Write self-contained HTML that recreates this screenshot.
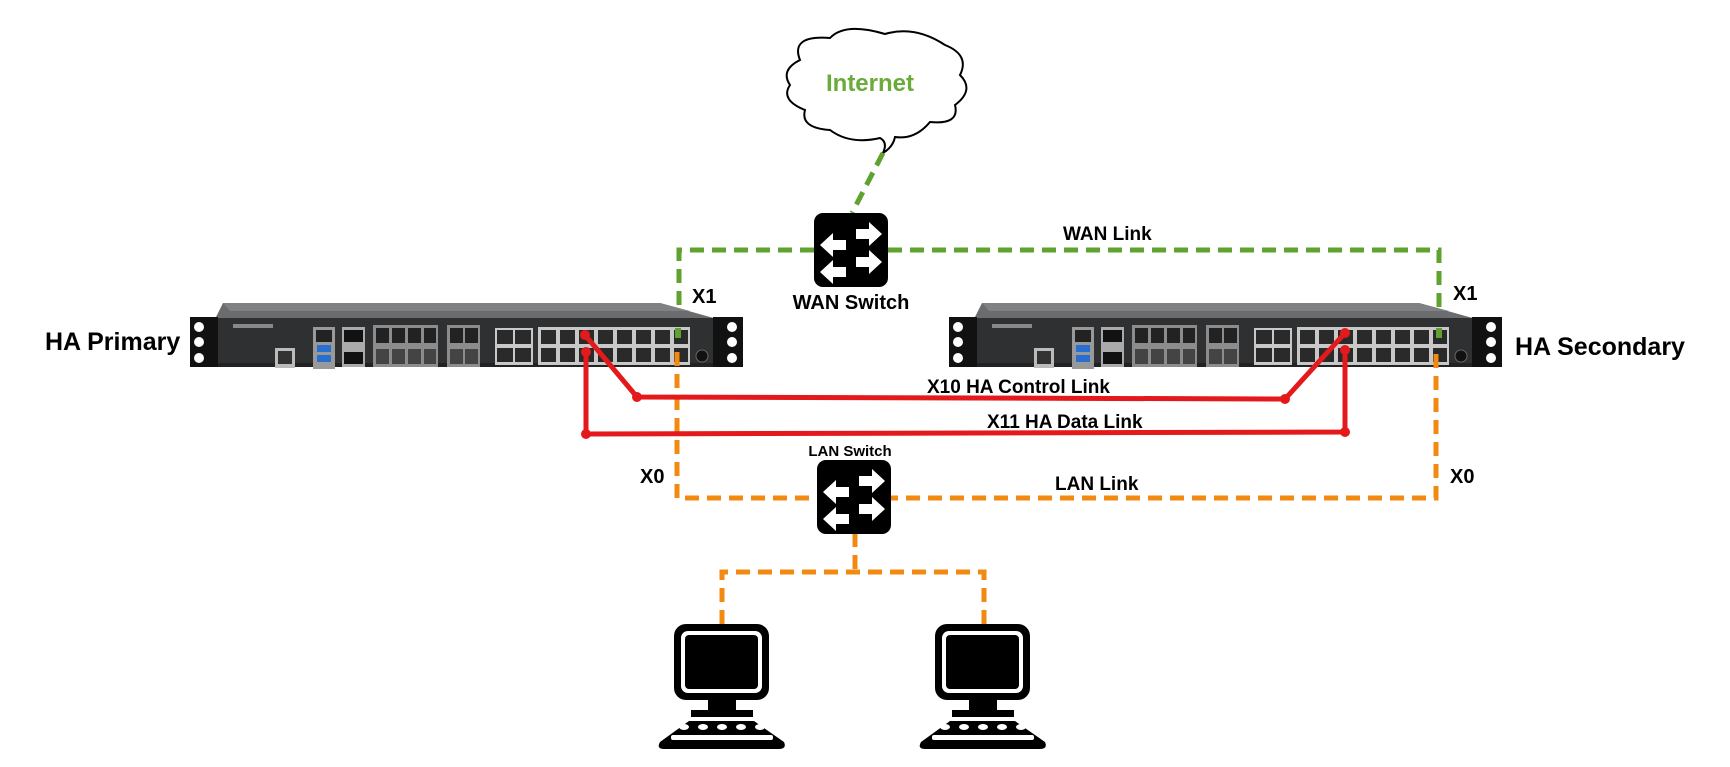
<!DOCTYPE html>
<html><head><meta charset="utf-8"><style>
html,body{margin:0;padding:0;background:#fff;}
svg{display:block;}
text{font-family:"Liberation Sans",sans-serif;font-weight:bold;}
</style></head><body>
<svg width="1730" height="767" viewBox="0 0 1730 767" xmlns="http://www.w3.org/2000/svg">
<defs>
<g id="fw">
  <polygon points="33,0 470,0 520,14 528,16 25,16" fill="#6b6c6e"/>
  <polygon points="33,0 470,0 500,8 40,8" fill="#808183"/>
  <rect x="25" y="15" width="505" height="49" fill="#2f3032"/>
  <rect x="25" y="60" width="505" height="4" fill="#222"/>
  <rect x="0" y="14" width="28" height="50" fill="#111"/>
  <rect x="523" y="14" width="30" height="50" fill="#111"/>
  <circle cx="9" cy="24" r="5" fill="#fff"/><circle cx="9" cy="39" r="5" fill="#fff"/><circle cx="9" cy="55" r="5" fill="#fff"/>
  <circle cx="542" cy="24" r="5" fill="#fff"/><circle cx="542" cy="39" r="5" fill="#fff"/><circle cx="542" cy="55" r="5" fill="#fff"/>
  <rect x="43" y="21" width="40" height="4" fill="#888"/>
  <rect x="85" y="45" width="20" height="20" fill="#bbb"/><rect x="88" y="48" width="14" height="13" fill="#333"/>
  <rect x="123" y="24" width="22" height="42" fill="#999"/>
  <rect x="126" y="27" width="16" height="12" fill="#222"/>
  <rect x="127" y="42" width="14" height="7" fill="#2a6fd0"/><rect x="127" y="52" width="14" height="7" fill="#2a6fd0"/>
  <rect x="152" y="24" width="23" height="40" fill="#aaa"/>
  <rect x="154" y="27" width="19" height="12" fill="#111"/><rect x="154" y="49" width="19" height="12" fill="#111"/>
  <rect x="183" y="22" width="65" height="42" fill="#8c8c8c"/>
  <rect x="186" y="25" width="13" height="15" fill="#222"/><rect x="202" y="25" width="13" height="15" fill="#222"/><rect x="218" y="25" width="13" height="15" fill="#222"/><rect x="234" y="25" width="12" height="15" fill="#222"/>
  <rect x="186" y="46" width="13" height="15" fill="#444"/><rect x="202" y="46" width="13" height="15" fill="#444"/><rect x="218" y="46" width="13" height="15" fill="#444"/><rect x="234" y="46" width="12" height="15" fill="#444"/>
  <rect x="257" y="22" width="33" height="42" fill="#8c8c8c"/>
  <rect x="260" y="25" width="13" height="15" fill="#222"/><rect x="275" y="25" width="13" height="15" fill="#222"/>
  <rect x="260" y="46" width="13" height="15" fill="#444"/><rect x="275" y="46" width="13" height="15" fill="#444"/>
  <rect x="305" y="25" width="38" height="37" fill="#c8c8c8"/>
  <rect x="307" y="27" width="16" height="14" fill="#2a2a2a"/><rect x="325" y="27" width="16" height="14" fill="#2a2a2a"/>
  <rect x="307" y="45" width="16" height="14" fill="#2a2a2a"/><rect x="325" y="45" width="16" height="14" fill="#2a2a2a"/>
  <rect x="348" y="24" width="152" height="38" fill="#c8c8c8"/>
  <g fill="#2a2a2a">
    <rect x="351" y="27" width="15" height="14"/><rect x="370" y="27" width="15" height="14"/><rect x="389" y="27" width="15" height="14"/><rect x="408" y="27" width="15" height="14"/><rect x="427" y="27" width="15" height="14"/><rect x="446" y="27" width="15" height="14"/><rect x="465" y="27" width="15" height="14"/><rect x="484" y="27" width="14" height="14"/>
    <rect x="351" y="45" width="15" height="14"/><rect x="370" y="45" width="15" height="14"/><rect x="389" y="45" width="15" height="14"/><rect x="408" y="45" width="15" height="14"/><rect x="427" y="45" width="15" height="14"/><rect x="446" y="45" width="15" height="14"/><rect x="465" y="45" width="15" height="14"/><rect x="484" y="45" width="14" height="14"/>
  </g>
  <circle cx="512" cy="53" r="6" fill="#111" stroke="#666"/>
</g>
<g id="sw">
  <rect x="0" y="0" width="74" height="74" rx="9" fill="#000"/>
  <g fill="#fff">
    <polygon points="42,16 55,16 55,9 68,21 55,33 55,26 42,26"/>
    <polygon points="42,44 55,44 55,37 68,49 55,61 55,54 42,54"/>
    <polygon points="32,27 19,27 19,20 6,32 19,44 19,37 32,37"/>
    <polygon points="32,54 19,54 19,47 6,59 19,71 19,64 32,64"/>
  </g>
</g>
<g id="pc">
  <rect x="0" y="0" width="95" height="76" rx="12" fill="#000"/>
  <rect x="7" y="7" width="81" height="62" rx="7" fill="#fff"/>
  <rect x="11" y="11" width="73" height="54" rx="4" fill="#000"/>
  <rect x="34" y="76" width="28" height="10" fill="#000"/>
  <rect x="17" y="86" width="62" height="7" fill="#000"/>
  <path d="M15,97 L80,97 L110,118 Q113,125 105,125 L-10,125 Q-18,125 -14,118 Z" fill="#000"/>
  <g fill="#fff"><ellipse cx="10" cy="103" rx="5" ry="3"/><ellipse cx="29" cy="103" rx="5" ry="3"/><ellipse cx="48" cy="103" rx="5" ry="3"/><ellipse cx="67" cy="103" rx="5" ry="3"/><ellipse cx="86" cy="103" rx="5" ry="3"/></g>
  <rect x="-3" y="111" width="102" height="5" rx="2" fill="#fff"/>
</g>
</defs>

<!-- cloud -->
<path d="M800,60 Q790,35 830,38 Q845,22 885,34 Q915,25 945,45 Q970,55 960,75 Q975,90 955,105 Q960,125 930,122 Q915,140 895,137 Q893,147 883,153 Q888,142 880,138 Q850,145 830,130 Q800,128 805,110 Q780,100 790,85 Q780,70 800,60 Z" fill="#fff" stroke="#000" stroke-width="2"/>
<text x="870" y="91" font-size="24" fill="#6aab3a" text-anchor="middle">Internet</text>

<!-- green WAN -->
<g stroke="#5fa22f" stroke-width="5" fill="none" stroke-dasharray="14,8">
  <path d="M883,153 L852,213"/>
  <path d="M814,250 L679,250 L679,338"/>
  <path d="M888,250 L1439,250 L1439,336"/>
</g>

<!-- firewalls -->
<use href="#fw" x="190" y="303"/>
<use href="#fw" x="949" y="303"/>
<rect x="675" y="328" width="6" height="10" fill="#5fa22f"/>
<rect x="1436" y="328" width="6" height="10" fill="#5fa22f"/>

<!-- orange LAN -->
<g stroke="#f28a12" stroke-width="5" fill="none" stroke-dasharray="14,8">
  <path d="M677,352 L677,498 L817,498"/>
  <path d="M1436,354 L1436,498 L891,498"/>
  <path d="M855,533 L855,572"/>
  <path d="M722,624 L722,572 L984,572 L984,624"/>
</g>

<!-- red HA -->
<g stroke="#e3191b" stroke-width="5" fill="none">
  <path d="M585,335 L637,397 L1285,399 L1345,333"/>
  <path d="M586,352 L586,434 L1345,432 L1345,350"/>
</g>
<g fill="#e3191b">
  <circle cx="585" cy="335" r="5"/><circle cx="586" cy="352" r="5"/><circle cx="637" cy="397" r="5"/><circle cx="586" cy="434" r="5"/>
  <circle cx="1345" cy="333" r="5"/><circle cx="1345" cy="350" r="5"/><circle cx="1285" cy="399" r="5"/><circle cx="1345" cy="432" r="5"/>
</g>

<!-- switches -->
<use href="#sw" x="814" y="213"/>
<use href="#sw" x="817" y="460"/>

<!-- PCs -->
<use href="#pc" x="674" y="624"/>
<use href="#pc" x="935" y="624"/>

<!-- labels -->
<g fill="#000">
<text x="45" y="350" font-size="25">HA Primary</text>
<text x="1515" y="355" font-size="25">HA Secondary</text>
<text x="692" y="303" font-size="20">X1</text>
<text x="1453" y="300" font-size="20">X1</text>
<text x="640" y="483" font-size="20">X0</text>
<text x="1450" y="483" font-size="20">X0</text>
<text x="851" y="309" font-size="20" text-anchor="middle">WAN Switch</text>
<text x="850" y="456" font-size="15" text-anchor="middle">LAN Switch</text>
<text x="1063" y="240" font-size="19">WAN Link</text>
<text x="1055" y="490" font-size="19">LAN Link</text>
<text x="927" y="393" font-size="19">X10  HA Control Link</text>
<text x="987" y="428" font-size="19">X11 HA Data Link</text>
</g>
</svg>
</body></html>
